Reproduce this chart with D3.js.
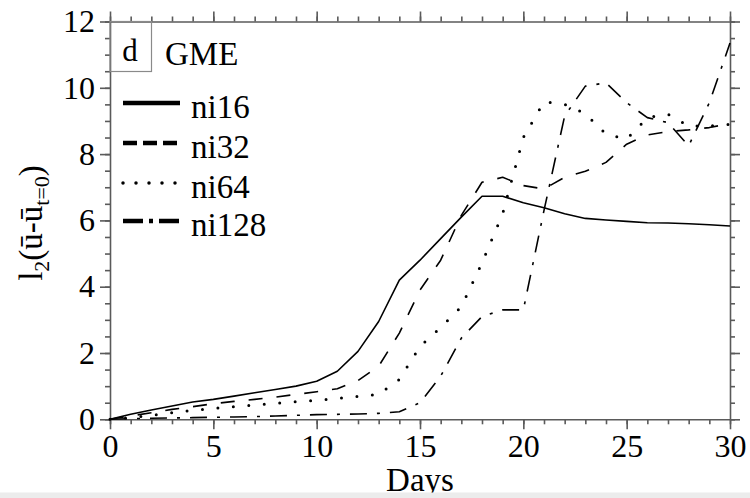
<!DOCTYPE html>
<html>
<head>
<meta charset="utf-8">
<script src="https://cdn.jsdelivr.net/npm/d3@7"></script>
<style>
  body { margin: 0; background: #fff; }
  svg { display: block; }
  text { font-family: "Liberation Serif", "DejaVu Serif", serif; fill: #000; }
</style>
</head>
<body>
<div id="chart"></div>
<script>
/* l2 error growth, GME panel d */

// Days on the x axis
const days = [0, 1, 2, 3, 4, 5, 6, 7, 8, 9, 10, 11, 12, 13, 14, 15,
              16, 17, 18, 19, 20, 21, 22, 23, 24, 25, 26, 27, 28, 29, 30];

// series values
const ni16 = [0, 0.15, 0.28, 0.4, 0.52, 0.6, 0.7, 0.8, 0.9, 1.0, 1.15, 1.45, 2.05, 2.95, 4.2, 4.8,
              5.45, 6.1, 6.73, 6.73, 6.53, 6.38, 6.2, 6.06, 6.01, 5.97, 5.93, 5.92, 5.9, 5.87, 5.83];
const ni32 = [0, 0.1, 0.2, 0.3, 0.38, 0.47, 0.54, 0.6, 0.67, 0.75, 0.83, 0.92, 1.17, 1.6, 2.6, 3.9,
              4.8, 6.15, 7.15, 7.3, 7.05, 6.95, 7.3, 7.48, 7.75, 8.3, 8.58, 8.68, 8.73, 8.8, 8.92];
const ni64 = [0, 0.05, 0.12, 0.2, 0.27, 0.33, 0.38, 0.43, 0.48, 0.53, 0.57, 0.63, 0.69, 0.75, 1.2, 2.2,
              2.77, 3.4, 4.72, 6.2, 8.5, 9.58, 9.5, 9.22, 8.6, 8.45, 9.1, 9.2, 8.85, 8.85, 8.9];
const ni128 = [0, 0.02, 0.03, 0.04, 0.05, 0.06, 0.07, 0.08, 0.1, 0.12, 0.14, 0.15, 0.16, 0.18, 0.23, 0.5,
               1.3, 2.45, 3.1, 3.3, 3.3, 6.3, 9.15, 10.05, 10.15, 9.55, 9.1, 8.95, 8.25, 9.55, 11.35];

const seriesNames = ["ni16", "ni32", "ni64", "ni128"];
const xTicks = [0, 5, 10, 15, 20, 25, 30];
const yTicks = [0, 2, 4, 6, 8, 10, 12];

const height = 498,
    width = 750,
    margin = ({ top: 21.5, right: 20, bottom: 78.7, left: 110 });

const svg = d3.select("#chart")
    .append("svg")
    .attr("width", width)
    .attr("height", height)
    .attr("viewBox", [0, 0, width, height]);

let x = d3.scaleLinear()
    .domain([0, 30])
    .range([margin.left, width - margin.right]);

let y = d3.scaleLinear()
    .domain([0, 12])
    .range([height - margin.bottom, margin.top]);

const axisGrey = "#5a5a5a";

// styling helper for the axis groups
function styleAxis(g, withText) {
    g.attr("font-family", null).attr("font-size", null);
    g.selectAll(".domain").attr("stroke", axisGrey).attr("stroke-width", 1.6);
    g.selectAll(".tick line").attr("stroke", axisGrey).attr("stroke-width", 1.6);
    if (withText) g.selectAll(".tick text").style("font-size", "32px").attr("fill", "#000");
}

const bottomY = height - margin.bottom, rightX = width - margin.right;

// minor ticks first (every day / every 0.5)
svg.append("g").attr("transform", `translate(0,${bottomY})`)
    .call(d3.axisBottom(x).tickValues(x.ticks(30)).tickSize(5).tickFormat(""))
    .call(g => { styleAxis(g, false); g.select(".domain").remove(); });
svg.append("g").attr("transform", `translate(0,${margin.top})`)
    .call(d3.axisTop(x).tickValues(x.ticks(30)).tickSize(5).tickFormat(""))
    .call(g => { styleAxis(g, false); g.select(".domain").remove(); });
svg.append("g").attr("transform", `translate(${margin.left},0)`)
    .call(d3.axisLeft(y).tickValues(y.ticks(24)).tickSize(5).tickFormat(""))
    .call(g => { styleAxis(g, false); g.select(".domain").remove(); });
svg.append("g").attr("transform", `translate(${rightX},0)`)
    .call(d3.axisRight(y).tickValues(y.ticks(24)).tickSize(5).tickFormat(""))
    .call(g => { styleAxis(g, false); g.select(".domain").remove(); });

// major ticks + frame
svg.append("g").attr("transform", `translate(0,${bottomY})`)
    .call(d3.axisBottom(x).tickValues(xTicks).tickSize(10).tickSizeOuter(0).tickPadding(5))
    .call(g => styleAxis(g, true));
svg.append("g").attr("transform", `translate(0,${margin.top})`)
    .call(d3.axisTop(x).tickValues(xTicks).tickSize(10).tickSizeOuter(0).tickFormat(""))
    .call(g => styleAxis(g, false));
svg.append("g").attr("transform", `translate(${margin.left},0)`)
    .call(d3.axisLeft(y).tickValues(yTicks).tickSize(10).tickSizeOuter(0).tickPadding(5))
    .call(g => styleAxis(g, true));
svg.append("g").attr("transform", `translate(${rightX},0)`)
    .call(d3.axisRight(y).tickValues(yTicks).tickSize(10).tickSizeOuter(0).tickFormat(""))
    .call(g => styleAxis(g, false));

// lines
const styles = {
    ni16: { dash: null, w: 1.6, cap: "butt" },
    ni32: { dash: "14,14", w: 1.6, cap: "butt" },
    ni64: { dash: "0,15.5", w: 3, cap: "round" },
    ni128: { dash: "17,10,3,10", w: 1.6, cap: "butt" }
};
const legendStyles = {
    ni16: { dash: null, w: 4.5, cap: "butt" },
    ni32: { dash: "14,6", w: 4.5, cap: "butt" },
    ni64: { dash: "0,13", w: 3.5, cap: "round" },
    ni128: { dash: "20,6,4,6", w: 4.5, cap: "butt" }
};
const seriesData = { ni16: ni16, ni32: ni32, ni64: ni64, ni128: ni128 };

let line = d3.line()
    .x((d, i) => x(days[i]))
    .y(d => y(d));

for (let name of seriesNames) {
    let s = styles[name];
    svg.append("path")
        .datum(seriesData[name])
        .attr("d", line)
        .attr("fill", "none")
        .attr("stroke", "#000")
        .attr("stroke-width", s.w)
        .attr("stroke-linecap", s.cap)
        .attr("stroke-linejoin", "round")
        .attr("stroke-dasharray", s.dash);
}

// panel box with "d" and title
svg.append("rect")
    .attr("x", margin.left).attr("y", margin.top)
    .attr("width", 41.5).attr("height", 50)
    .attr("fill", "none").attr("stroke", "#8a8a8a").attr("stroke-width", 1.2);
svg.append("text")
    .attr("x", 130).attr("y", 61)
    .attr("text-anchor", "middle")
    .style("font-size", "31px")
    .text("d");
svg.append("text")
    .attr("x", 165).attr("y", 65)
    .style("font-size", "33px")
    .text("GME");

// legend
const legendY = [103, 143, 183, 221];
seriesNames.forEach((name, i) => {
    let s = legendStyles[name];
    svg.append("line")
        .attr("x1", 123).attr("x2", 180)
        .attr("y1", legendY[i]).attr("y2", legendY[i])
        .attr("stroke", "#000")
        .attr("stroke-width", s.w)
        .attr("stroke-linecap", s.cap)
        .attr("stroke-dasharray", s.dash);
    svg.append("text")
        .attr("x", 191)
        .attr("y", legendY[i] + 15)
        .style("font-size", "33px")
        .text(name);
});

// axis titles
svg.append("text")
    .attr("x", (margin.left + rightX) / 2)
    .attr("y", 491)
    .attr("text-anchor", "middle")
    .style("font-size", "33px")
    .text("Days");

const yLab = svg.append("text")
    .attr("transform", `translate(42,223) rotate(-90)`)
    .attr("text-anchor", "middle")
    .style("font-size", "33px");
yLab.append("tspan").text("l");
yLab.append("tspan").attr("dy", 7).style("font-size", "22px").text("2");
yLab.append("tspan").attr("dy", -7).text("(ū-ū");
yLab.append("tspan").attr("dy", 7).style("font-size", "22px").text("t=0");
yLab.append("tspan").attr("dy", -7).text(")");

// grey strip of the screenshot at the bottom
svg.append("rect")
    .attr("x", 0).attr("y", 492.5)
    .attr("width", width).attr("height", height - 492.5)
    .attr("fill", "#ececec");
</script>
</body>
</html>
